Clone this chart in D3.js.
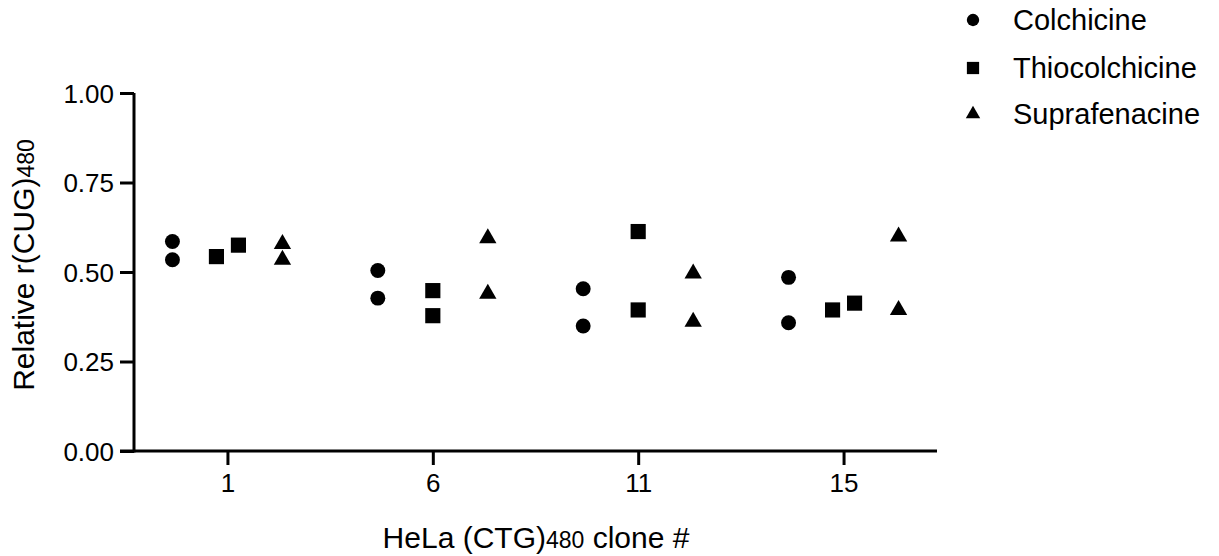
<!DOCTYPE html>
<html>
<head>
<meta charset="utf-8">
<script src="https://cdn.jsdelivr.net/npm/d3@7"></script>
<style>
  body { margin: 0; background: #fff; }
  svg { font-family: "Liberation Sans", Arial, sans-serif; }
  .axis path, .axis line { stroke: #000; stroke-width: 3; }
  .axis text { font-size: 26px; fill: #000; }
</style>
</head>
<body>
<svg id="chart"></svg>
<script>
var clones = ["1", "6", "11", "15"];
var series = ["Colchicine", "Thiocolchicine", "Suprafenacine"];
var yTicks = [0, 0.25, 0.5, 0.75, 1];

// two replicates per clone, per compound
var colchicine     = [[0.585, 0.534], [0.504, 0.427], [0.453, 0.349], [0.485, 0.358]];
var thiocolchicine = [[0.543, 0.575], [0.448, 0.378], [0.613, 0.394], [0.394, 0.413]];
var suprafenacine  = [[0.578, 0.534], [0.594, 0.439], [0.496, 0.361], [0.599, 0.394]];

var values = [colchicine, thiocolchicine, suprafenacine];

var width = 1219, height = 556;
var svg = d3.select("#chart").attr("width", width).attr("height", height);

var x = d3.scalePoint().domain(clones).range([134, 937]).padding(0.455);
var offset = d3.scalePoint().domain(series).range([-55, 55]);
var y = d3.scaleLinear().domain([0, 1]).range([451, 93]);

var shapes = [d3.symbolCircle, d3.symbolSquare, d3.symbolTriangle];
var sizes = [175, 230, 130];

// y axis
var yAxis = d3.axisLeft(y).tickValues(yTicks).tickFormat(d3.format(".2f"))
    .tickSize(14).tickPadding(6).tickSizeOuter(0);
var gy = svg.append("g").attr("class", "axis").attr("transform", "translate(134,0)").call(yAxis);
gy.select(".domain").attr("d", "M0," + (y(0) + 1.5) + "V" + y(1));
gy.selectAll("text").attr("dy", "0.36em");

// x axis
var xAxis = d3.axisBottom(x).tickSize(14).tickPadding(9).tickSizeOuter(0);
var gx = svg.append("g").attr("class", "axis").attr("transform", "translate(0," + y(0) + ")").call(xAxis);
gx.select(".domain").attr("d", "M120,0H937");

// points
var pts = [];
values.forEach(function(s, si) {
  s.forEach(function(pair, ci) {
    var close = Math.abs(pair[0] - pair[1]) < 0.035;
    pair.forEach(function(v, k) {
      var spread = close ? (v < pair[1 - k] ? -11 : 11) : 0;
      pts.push({ s: si, c: clones[ci], v: v, dx: spread });
    });
  });
});

svg.append("g").selectAll("path").data(pts).join("path")
  .attr("d", function(d) { return d3.symbol().type(shapes[d.s]).size(sizes[d.s])(); })
  .attr("transform", function(d) {
    return "translate(" + (x(d.c) + offset(series[d.s]) + d.dx) + "," + y(d.v) + ")";
  })
  .attr("fill", "#000");

// axis titles
var xt = svg.append("text").attr("x", 536).attr("y", 548).attr("text-anchor", "middle")
  .attr("font-size", 30).attr("fill", "#000");
xt.append("tspan").text("HeLa (CTG)");
xt.append("tspan").attr("font-size", 23).text("480");
xt.append("tspan").text(" clone #");

var yt = svg.append("text").attr("transform", "translate(34,265) rotate(-90)")
  .attr("text-anchor", "middle").attr("font-size", 30).attr("fill", "#000");
yt.append("tspan").text("Relative r(CUG)");
yt.append("tspan").attr("font-size", 23).text("480");

// legend
var legRows = [20, 68, 114];
var legSizes = [120, 150, 90];
var leg = svg.append("g").selectAll("g").data(series).join("g")
  .attr("transform", function(d, i) { return "translate(973," + legRows[i] + ")"; });
leg.append("path")
  .attr("d", function(d, i) { return d3.symbol().type(shapes[i]).size(legSizes[i])(); })
  .attr("fill", "#000");
leg.append("text").attr("x", 40).attr("dy", "0.36em").attr("font-size", 29)
  .attr("fill", "#000").text(function(d) { return d; });
</script>
</body>
</html>
